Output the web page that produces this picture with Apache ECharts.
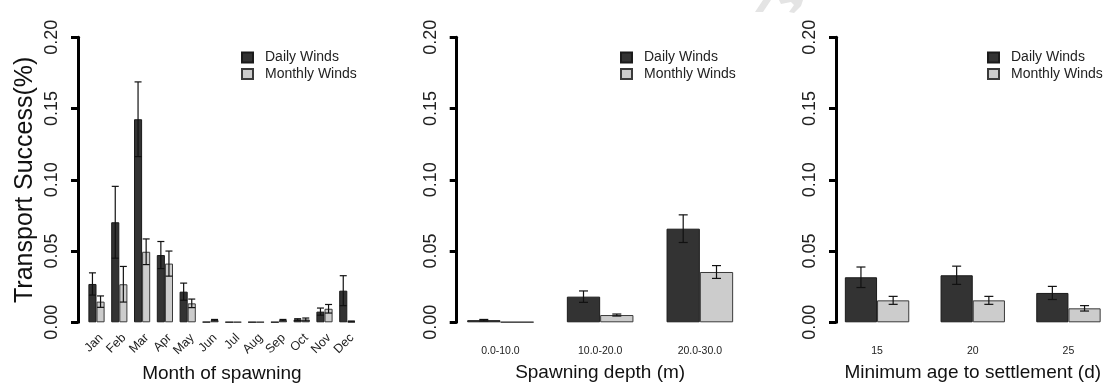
<!DOCTYPE html>
<html>
<head>
<meta charset="utf-8">
<script src="https://cdn.jsdelivr.net/npm/echarts@6/dist/echarts.min.js"></script>
<style>
html,body{margin:0;padding:0;background:#fff;}
#chart{width:1105px;height:383px;}
</style>
</head>
<body>
<div id="chart"></div>
<script>
// ---- data ----
const months = ['Jan','Feb','Mar','Apr','May','Jun','Jul','Aug','Sep','Oct','Nov','Dec'];
const monthDaily    = [0.0269,0.0702,0.1425,0.0472,0.0215,0.0003,0.0002,0.0002,0.0002,0.0020,0.0075,0.0222];
const monthDailyErr = [0.0078,0.0252,0.0262,0.0095,0.0060,0.0000,0.0000,0.0000,0.0000,0.0005,0.0025,0.0105];
const monthMonthly    = [0.0145,0.0267,0.0495,0.0412,0.0133,0.0015,0.0002,0.0002,0.0015,0.0020,0.0095,0.0006];
const monthMonthlyErr = [0.0040,0.0125,0.0090,0.0088,0.0030,0.0005,0.0000,0.0000,0.0005,0.0010,0.0030,0.0003];

const depths = ['0.0-10.0','10.0-20.0','20.0-30.0'];
const depthDaily    = [0.0015,0.0180,0.0657];
const depthDailyErr = [0.0005,0.0040,0.0097];
const depthMonthly    = [0.0002,0.0051,0.0353];
const depthMonthlyErr = [0.0000,0.0007,0.0045];

const ages = ['15','20','25'];
const ageDaily    = [0.0316,0.0330,0.0206];
const ageDailyErr = [0.0072,0.0064,0.0046];
const ageMonthly    = [0.0154,0.0154,0.0098];
const ageMonthlyErr = [0.0028,0.0028,0.0019];

const yTicks = {min:0, max:0.20, interval:0.05};
const seriesNames = ['Daily Winds','Monthly Winds'];
const xTitles = ['Month of spawning','Spawning depth (m)','Minimum age to settlement (d)'];
const yTitle = 'Transport Success(%)';

// ---- layout ----
const FONT = '"Liberation Sans", Arial, Helvetica, sans-serif';
const DARK = '#333333', LIGHT = '#cccccc';
const panels = [
  {cats: months, d: monthDaily, de: monthDailyErr, m: monthMonthly, me: monthMonthlyErr,
   left: 85.1, width: 273.6, barW: 8.1, axisX: 78, cap: 7, rotate: 45, lblSize: 12.5, lblMargin: 9,
   vAlign: 'top', legendLeft: 241},
  {cats: depths, d: depthDaily, de: depthDailyErr, m: depthMonthly, me: depthMonthlyErr,
   left: 450.6, width: 299.1, barW: 33.3, axisX: 456.7, cap: 9, rotate: 0, lblSize: 10.5, lblMargin: 23,
   vAlign: null, legendLeft: 620},
  {cats: ages, d: ageDaily, de: ageDailyErr, m: ageMonthly, me: ageMonthlyErr,
   left: 829.2, width: 287.1, barW: 32.2, axisX: 836, cap: 9, rotate: 0, lblSize: 10.5, lblMargin: 23,
   vAlign: null, legendLeft: 987}
];
const TOP = 37.3, HEIGHT = 285;

const grid = [], xAxis = [], yAxis = [], series = [], legend = [];
panels.forEach((p, i) => {
  grid.push({left: p.left, top: TOP, width: p.width, height: HEIGHT, containLabel: false, outerBoundsMode: 'none'});
  const xl = {rotate: p.rotate, fontSize: p.lblSize, color: '#222', fontFamily: FONT, margin: p.lblMargin, interval: 0};
  if (p.vAlign) xl.verticalAlign = p.vAlign;
  xAxis.push({
    type: 'category', gridIndex: i, data: p.cats,
    axisLine: {show: false}, axisTick: {show: false},
    axisLabel: xl,
    name: xTitles[i], nameLocation: 'middle', nameGap: 41,
    nameTextStyle: {fontSize: 19, color: '#111', fontFamily: FONT},
    splitLine: {show: false}
  });
  yAxis.push({
    type: 'value', gridIndex: i, min: yTicks.min, max: yTicks.max, interval: yTicks.interval,
    offset: p.left - p.axisX,
    axisLine: {show: true, lineStyle: {color: '#000', width: 3}},
    axisTick: {show: true, length: 7, lineStyle: {color: '#000', width: 3}},
    axisLabel: {rotate: 90, fontSize: 18, color: '#222', fontFamily: FONT, margin: 17,
      formatter: v => v.toFixed(2)},
    splitLine: {show: false},
    name: i === 0 ? yTitle : '', nameLocation: 'middle', nameGap: 40,
    nameTextStyle: {fontSize: 25, color: '#111', fontFamily: FONT}
  });
  series.push({
    type: 'bar', name: seriesNames[0], xAxisIndex: i, yAxisIndex: i, data: p.d,
    barWidth: p.barW, barGap: '0%',
    itemStyle: {color: DARK, borderColor: '#1a1a1a', borderWidth: 1}, silent: true
  });
  series.push({
    type: 'bar', name: seriesNames[1], xAxisIndex: i, yAxisIndex: i, data: p.m,
    barWidth: p.barW, barGap: '0%',
    itemStyle: {color: LIGHT, borderColor: '#3a3a3a', borderWidth: 1}, silent: true
  });
  [[p.d, p.de, -1], [p.m, p.me, 1]].forEach(([vals, errs, sgn]) => {
    series.push({
      type: 'custom', xAxisIndex: i, yAxisIndex: i, silent: true, z: 5,
      data: vals.map((v, k) => [k, v, errs[k]]),
      renderItem: (params, api) => {
        const k = api.value(0), v = api.value(1), e = api.value(2);
        if (!(e > 0)) return null;
        const top = api.coord([k, v + e]);
        const bot = api.coord([k, Math.max(0, v - e)]);
        const x = top[0] + sgn * p.barW / 2;
        const c = p.cap / 2;
        const st = {stroke: '#111', lineWidth: 1.2};
        return {type: 'group', children: [
          {type: 'line', shape: {x1: x, y1: top[1], x2: x, y2: bot[1]}, style: st},
          {type: 'line', shape: {x1: x - c, y1: top[1], x2: x + c, y2: top[1]}, style: st},
          {type: 'line', shape: {x1: x - c, y1: bot[1], x2: x + c, y2: bot[1]}, style: st}
        ]};
      }
    });
  });
  legend.push({
    left: p.legendLeft, top: 50.5, orient: 'vertical', itemGap: 2.5, padding: 0,
    itemWidth: 11, itemHeight: 10, data: seriesNames, selectedMode: false,
    icon: 'rect',
    textStyle: {fontSize: 14, color: '#222', fontFamily: FONT, lineHeight: 14, padding: [0,0,0,7]}
  });
});

// faint watermark fragments at the top edge
const graphic = [
  {type: 'polygon', silent: true, shape: {points: [[763,0],[771,0],[763,12],[755,12]]}, style: {fill: '#e4e4e4'}},
  {type: 'polygon', silent: true, shape: {points: [[779,0],[803,0],[801,6],[794,13],[789,12],[794,5],[791,2],[781,4]]}, style: {fill: '#e4e4e4'}}
];

const chart = echarts.init(document.getElementById('chart'), null, {renderer: 'canvas'});
chart.setOption({
  animation: false, backgroundColor: '#fff',
  grid, xAxis, yAxis, series, legend, graphic
});
</script>
</body>
</html>
